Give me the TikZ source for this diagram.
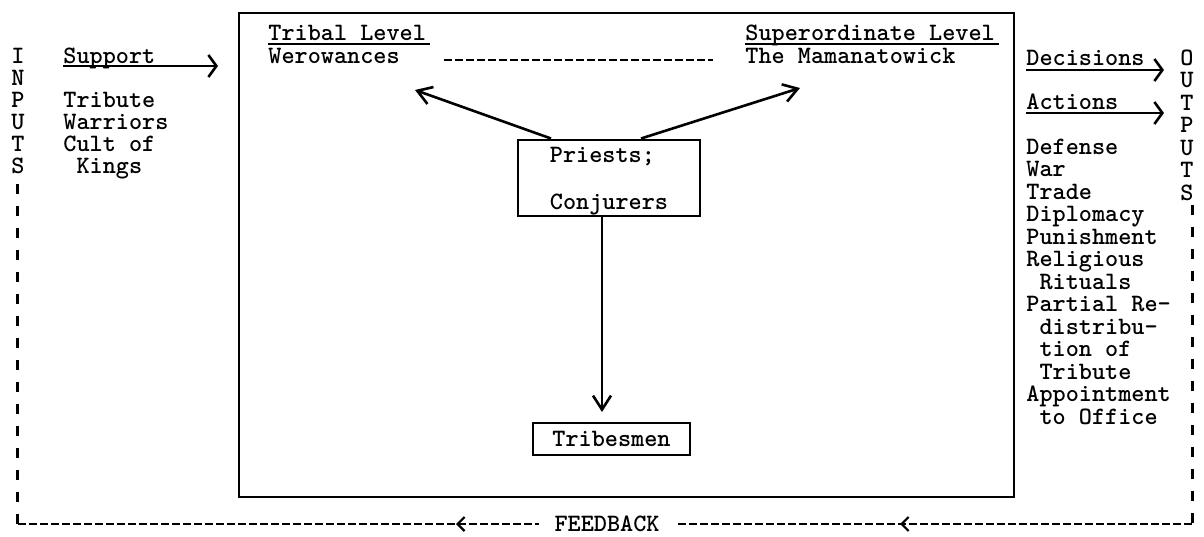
\documentclass[tikz,border=0pt]{standalone}
\usetikzlibrary{arrows.meta,decorations.markings}
\tikzset{
  bigtip/.tip={Straight Barb[length=7pt,width=9pt,line width=1.3pt]},
  sidetip/.tip={Straight Barb[length=4pt,width=11pt,line width=1.3pt]},
  fbtip/.tip={Straight Barb[length=3.5pt,width=7pt,line width=1.1pt]},
  tw/.style={font=\fontsize{12.5}{11}\selectfont\ttfamily\bfseries, inner sep=0pt, anchor=base west},
  twr/.style={font=\fontsize{12.5}{11.25}\selectfont\ttfamily\bfseries, inner sep=0pt},
  arr/.style={line width=1.3pt},
  uline/.style={line width=0.7pt},
  dline/.style={line width=1pt, dash pattern=on 4pt off 1.5pt},
  hdash/.style={line width=1.1pt, dash pattern=on 4pt off 1.5pt},
  vdash/.style={line width=1.5pt, dash pattern=on 5pt off 6pt},
  boxed/.style={draw, line width=1pt, font=\fontsize{12.5}{11}\selectfont\ttfamily\bfseries, inner sep=0pt},
}
\begin{document}
\begin{tikzpicture}[x=0.5pt,y=-0.5pt]
\useasboundingbox (0,0) rectangle (1204,536);

% main system box
\node[draw, line width=1pt, minimum width=387.5pt, minimum height=242pt, inner sep=0pt, anchor=north west] (sys) at (238,12) {};

% inputs (anchor base = baseline of last line)
\node[tw, anchor=base, align=center] (inputs) at (18,173) {I\\N\\P\\U\\T\\S};
\node[tw] (support) at (63,63) {Support};
\coordinate (supend) at (218,66);
\draw[arr,-{sidetip}] ([yshift=-1.5pt]support.base west) -- (supend);
\node[tw, align=left] (inlist) at (63,173) {Tribute\\Warriors\\Cult of\\~Kings};

% levels
\node[tw] (tribal) at (268,40) {Tribal Level};
\draw[uline] ([yshift=-2pt]tribal.base west) -- ([yshift=-2pt,xshift=2pt]tribal.base east);
\node[tw] (wero) at (268,63) {Werowances};
\node[tw] (super) at (745,40) {Superordinate Level};
\draw[uline] ([yshift=-2pt]super.base west) -- ([yshift=-2pt,xshift=2pt]super.base east);
\node[tw] (mama) at (745,63) {The Mamanatowick};
\draw[dline] ([xshift=22pt,yshift=1.5pt]wero.base east) -- ([xshift=-16pt,yshift=1.5pt]mama.base west);

% priests and tribesmen
\node[boxed, minimum width=91pt, minimum height=38pt, align=left] (priests) at (609,177.5) {\rule{0pt}{11.5pt}Priests;\\[12.5pt]Conjurers};
\node[boxed, minimum width=78.5pt, minimum height=16pt] (tribes) at (611.5,439) {Tribesmen};
\coordinate (lt) at (415,90);
\coordinate (rt) at (800,88);
\draw[arr,-{bigtip}] ([xshift=17pt]priests.north west) -- (lt);
\draw[arr,-{bigtip}] ([xshift=-30pt]priests.north east) -- (rt);
\draw[arr,-{bigtip}, shorten >=5pt] ([xshift=-3.5pt]priests.south) -- ([xshift=-3.5pt]priests.south |- tribes.north);

% outputs
\node[tw] (dec) at (1026,65) {Decisions};
\coordinate (decend) at (1164,70);
\draw[arr,-{sidetip}] ([yshift=-2.5pt]dec.base west) -- (decend);
\node[tw] (act) at (1026,109) {Actions};
\coordinate (actend) at (1164,113);
\draw[arr,-{sidetip}] ([yshift=-2pt]act.base west) -- (actend);
\node[twr, anchor=base west, align=left] (outlist) at (1026,424) {Defense\\War\\Trade\\Diplomacy\\Punishment\\Religious\\~Rituals\\Partial Re-\\~distribu-\\~tion of\\~Tribute\\Appointment\\~to Office};
\node[twr, anchor=base, align=center] (outputs) at (1187,200) {O\\U\\T\\P\\U\\T\\S};

% feedback loop
\coordinate (fbR) at (1192,524);
\coordinate (fbL) at (17,524);
\coordinate (fbRtop) at (1192,205);
\coordinate (fbLtop) at (17,178);
\draw[vdash] (fbRtop) -- (fbR);
\draw[hdash, postaction={decorate}, decoration={markings,
   mark=at position 146pt with {\arrow{fbtip}},
   mark=at position 368pt with {\arrow{fbtip}}}] (fbR) -- (fbL);
\draw[vdash] (fbL) -- (fbLtop);
\node[tw, anchor=base, fill=white, inner xsep=8pt, inner ysep=1pt] (fb) at (607,531) {FEEDBACK};
\end{tikzpicture}
\end{document}
